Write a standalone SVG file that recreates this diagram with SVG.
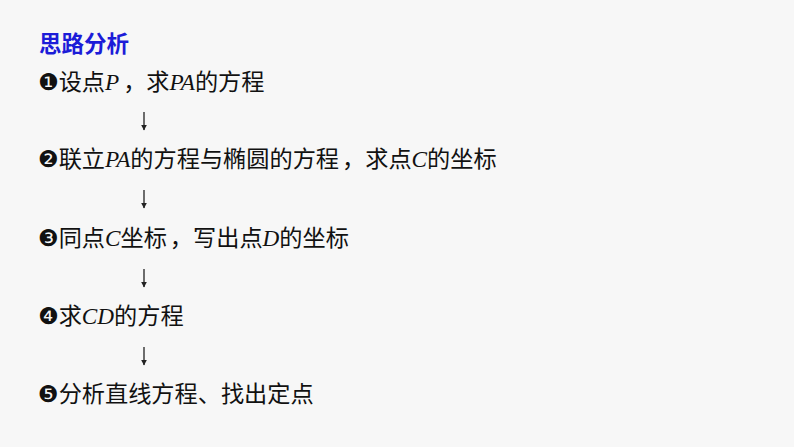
<svg xmlns="http://www.w3.org/2000/svg" width="794" height="447" viewBox="0 0 794 447">
<defs>
<marker id="ah" viewBox="0 0 10 10" refX="9" refY="5" markerWidth="6" markerHeight="6" orient="auto" markerUnits="userSpaceOnUse">
<path d="M0,0 L10,5 L0,10 Z" fill="#222"/>
</marker>
<style>
.t{font-family:"Noto Sans CJK SC","Liberation Sans",sans-serif;font-size:23.2px;fill:#111}
.i{font-family:"Liberation Serif",serif;font-style:italic}
.n{font-family:"DejaVu Sans",sans-serif;font-size:23px}
.h{font-family:"Noto Sans CJK SC",sans-serif;font-size:22.5px;font-weight:bold;fill:#1c1cd8}
.c{stroke:#222;stroke-width:1.3;fill:none}
</style>
</defs>
<rect width="794" height="447" fill="#f7f7f7"/>
<g id="title"><text class="h" x="39" y="52">思路分析</text></g>
<g id="step1"><text class="t" x="38" y="90"><tspan class="n">❶</tspan>设点<tspan class="i">P</tspan><tspan dx="4">，</tspan>求<tspan class="i">PA</tspan>的方程</text></g>
<g id="step2"><text class="t" x="38" y="167"><tspan class="n">❷</tspan>联立<tspan class="i">PA</tspan>的方程与椭圆的方程<tspan dx="3">，</tspan>求点<tspan class="i">C</tspan>的坐标</text></g>
<g id="step3"><text class="t" x="38" y="246"><tspan class="n">❸</tspan>同点<tspan class="i">C</tspan>坐标<tspan dx="3">，</tspan>写出点<tspan class="i">D</tspan>的坐标</text></g>
<g id="step4"><text class="t" x="38" y="324"><tspan class="n">❹</tspan>求<tspan class="i">CD</tspan>的方程</text></g>
<g id="step5"><text class="t" x="38" y="402"><tspan class="n">❺</tspan>分析直线方程、找出定点</text></g>
<g id="connectors">
<line class="c" x1="144" y1="112" x2="144" y2="130" marker-end="url(#ah)"/>
<line class="c" x1="144" y1="190" x2="144" y2="208" marker-end="url(#ah)"/>
<line class="c" x1="144" y1="269" x2="144" y2="287" marker-end="url(#ah)"/>
<line class="c" x1="144" y1="347" x2="144" y2="365" marker-end="url(#ah)"/>
</g>
</svg>
